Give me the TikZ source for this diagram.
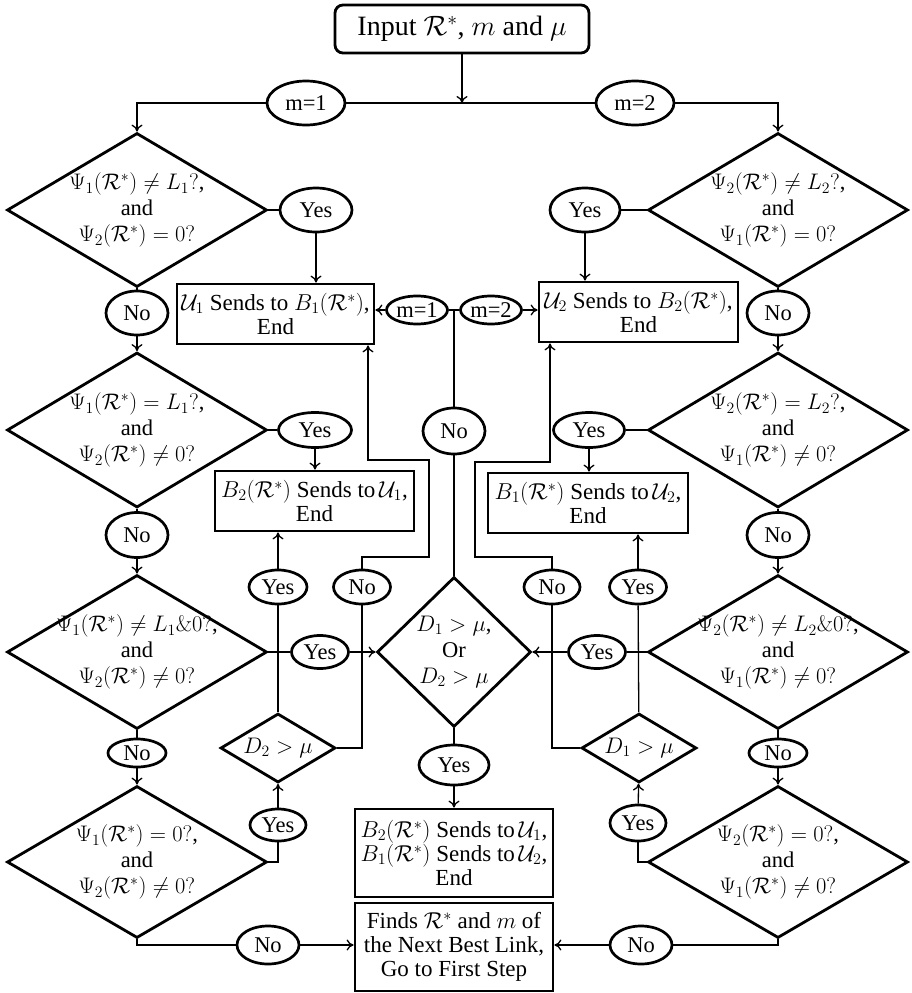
\RequirePackage{fix-cm}
\documentclass[tikz,border=0pt]{standalone}
\usepackage[no-math]{fontspec}
\setmainfont{Liberation Serif}
\usetikzlibrary{shapes.geometric,arrows.meta}

\begin{document}
\lineskiplimit=-8pt\relax
\begin{tikzpicture}[x=1pt,y=-1pt,
  every node/.style={font=\fontsize{22.5}{23}\selectfont},
  conn/.style={line width=1.3pt},
  arr/.style={conn,-{To[length=7pt,width=11pt]}},
  dia/.style={draw,diamond,line width=2.8pt,inner sep=0pt},
  dtext/.style={align=center,inner sep=0pt,font=\fontsize{22.5}{26}\selectfont},
  bub/.style 2 args={draw,ellipse,line width=2.7pt,inner sep=0pt,minimum width=#1,minimum height=#2},
  stepbox/.style={draw,rectangle,line width=2.8pt,inner sep=0pt,align=center,font=\fontsize{23}{24}\selectfont},
]
\useasboundingbox (0,0) rectangle (911,993);
\fill[white] (0,0) rectangle (911,993);

% ---- start and first split
\node[stepbox,rounded corners=8pt,minimum width=254pt,minimum height=48pt,font=\fontsize{28}{30}\selectfont] (start) at (462,29) {Input $\mathcal{R}^*$, $m$ and $\mu$};
\coordinate (split) at (462,103);
\node[bub={78pt}{44pt}] (m1a) at (306,103) {m=1};
\node[bub={78pt}{44pt}] (m2a) at (635,103) {m=2};

% ---- left column of tests
\node[dia,minimum width=260pt,minimum height=154pt] (L1) at (137,210) {};
\node[dtext] (L1t) at (L1) {$\Psi_1(\mathcal{R}^*)\neq L_1?$,\\and\\$\Psi_2(\mathcal{R}^*)=0?$};
\node[bub={62pt}{44pt}] (NoL1) at (137,313) {No};
\node[dia,minimum width=260pt,minimum height=155pt] (L2) at (137,430) {};
\node[dtext] (L2t) at (L2) {$\Psi_1(\mathcal{R}^*)=L_1?$,\\and\\$\Psi_2(\mathcal{R}^*)\neq 0?$};
\node[bub={62pt}{45pt}] (NoL2) at (137,535) {No};
\node[dia,minimum width=260pt,minimum height=154pt] (L3) at (137,652) {};
\node[dtext] (L3t) at (L3) {$\Psi_1(\mathcal{R}^*)\neq L_1\&0?$,\\and\\$\Psi_2(\mathcal{R}^*)\neq 0?$};
\node[bub={58pt}{28pt}] (NoL3) at (137,753) {No};
\node[dia,minimum width=260pt,minimum height=152pt] (L4) at (137,862) {};
\node[dtext] (L4t) at (L4) {$\Psi_1(\mathcal{R}^*)=0?$,\\and\\$\Psi_2(\mathcal{R}^*)\neq 0?$};

% ---- right column of tests
\node[dia,minimum width=260pt,minimum height=154pt] (R1) at (778,210) {};
\node[dtext] (R1t) at (R1) {$\Psi_2(\mathcal{R}^*)\neq L_2?$,\\and\\$\Psi_1(\mathcal{R}^*)=0?$};
\node[bub={62pt}{44pt}] (NoR1) at (778,313) {No};
\node[dia,minimum width=260pt,minimum height=155pt] (R2) at (778,430) {};
\node[dtext] (R2t) at (R2) {$\Psi_2(\mathcal{R}^*)=L_2?$,\\and\\$\Psi_1(\mathcal{R}^*)\neq 0?$};
\node[bub={62pt}{45pt}] (NoR2) at (778,535) {No};
\node[dia,minimum width=260pt,minimum height=154pt] (R3) at (778,652) {};
\node[dtext] (R3t) at (R3) {$\Psi_2(\mathcal{R}^*)\neq L_2\&0?$,\\and\\$\Psi_1(\mathcal{R}^*)\neq 0?$};
\node[bub={58pt}{28pt}] (NoR3) at (778,753) {No};
\node[dia,minimum width=260pt,minimum height=152pt] (R4) at (778,862) {};
\node[dtext] (R4t) at (R4) {$\Psi_2(\mathcal{R}^*)=0?$,\\and\\$\Psi_1(\mathcal{R}^*)\neq 0?$};

% ---- outcome boxes
\node[stepbox,minimum width=197pt,minimum height=60pt] (U1box) at (275.5,314) {$\mathcal{U}_1$ Sends to $B_1(\mathcal{R}^*)$,\\End};
\node[stepbox,minimum width=199pt,minimum height=60pt] (U2box) at (638.5,312) {$\mathcal{U}_2$ Sends to $B_2(\mathcal{R}^*)$,\\End};
\node[stepbox,minimum width=199pt,minimum height=60pt] (B2box) at (314.5,501) {$B_2(\mathcal{R}^*)$ Sends to\,$\mathcal{U}_1$,\\End};
\node[stepbox,minimum width=200pt,minimum height=60pt] (B1box) at (588,503) {$B_1(\mathcal{R}^*)$ Sends to\,$\mathcal{U}_2$,\\End};
\node[stepbox,minimum width=198pt,minimum height=88pt] (both) at (454,853) {$B_2(\mathcal{R}^*)$ Sends to\,$\mathcal{U}_1$,\\$B_1(\mathcal{R}^*)$ Sends to\,$\mathcal{U}_2$,\\End};
\node[stepbox,minimum width=198pt,minimum height=88pt] (next) at (454,947) {Finds $\mathcal{R}^*$ and $m$ of\\the Next Best Link,\\Go to First Step};

% ---- answer bubbles
\node[bub={72pt}{44pt}] (Yes1L) at (316,210) {Yes};
\node[bub={70pt}{44pt}] (Yes1R) at (585,210) {Yes};
\node[bub={61pt}{28pt}] (m1s) at (417,310) {m=1};
\node[bub={61pt}{28pt}] (m2s) at (491,310) {m=2};
\coordinate (hub) at (454,310);
\node[bub={62pt}{46pt}] (NoC) at (454,431) {No};
\node[bub={73pt}{35pt}] (Yes2L) at (315,430) {Yes};
\node[bub={71pt}{35pt}] (Yes2R) at (589,430) {Yes};
\node[bub={58pt}{34pt}] (YesL4) at (278,587) {Yes};
\node[bub={57pt}{34pt}] (NoL4) at (362,587) {No};
\node[bub={56pt}{34pt}] (NoR4) at (552,587) {No};
\node[bub={57pt}{34pt}] (YesR4) at (638,587) {Yes};
\node[bub={57pt}{33pt}] (Yes3L) at (320,652) {Yes};
\node[bub={57pt}{33pt}] (Yes3R) at (597,652) {Yes};
\node[bub={70pt}{40pt}] (YesC) at (454,765) {Yes};
\node[bub={56pt}{32pt}] (YesL5) at (278,825) {Yes};
\node[bub={56pt}{36pt}] (YesR5) at (638,823) {Yes};
\node[bub={62pt}{38pt}] (NoB1) at (268,945) {No};
\node[bub={62pt}{38pt}] (NoB2) at (641,945) {No};

% ---- threshold tests
\node[dia,minimum width=154pt,minimum height=150pt] (BigD) at (454,652) {};
\node[dtext] (BigDt) at (BigD) {$D_1>\mu$,\\Or\\$D_2>\mu$};
\node[dia,minimum width=115pt,minimum height=69pt] (SDL) at (278,748) {};
\node[dtext] (SDLt) at (SDL) {$D_2>\mu$};
\node[dia,minimum width=115pt,minimum height=69pt] (SDR) at (639,748) {};
\node[dtext] (SDRt) at (SDR) {$D_1>\mu$};

% ---- bends of the loop-back lines
\coordinate (la) at (362,557);
\coordinate (lb) at (429,557);
\coordinate (lc) at (429,460);
\coordinate (ld) at (368,460);
\coordinate (ra) at (552,557);
\coordinate (rb) at (475,557);
\coordinate (rc) at (475,462);
\coordinate (rd) at (550,462);

% ---- connectors: top
\draw[arr] (start) -- (split);
\draw[conn] (split) -- (m1a);
\draw[arr] (m1a) -| (L1);
\draw[conn] (split) -- (m2a);
\draw[arr] (m2a) -| (R1);

% ---- connectors: columns
\draw[conn] (L1) -- (NoL1);
\draw[arr] (NoL1) -- (L2);
\draw[conn] (L2) -- (NoL2);
\draw[arr] (NoL2) -- (L3);
\draw[conn] (L3) -- (NoL3);
\draw[arr] (NoL3) -- (L4);
\draw[conn] (R1) -- (NoR1);
\draw[arr] (NoR1) -- (R2);
\draw[conn] (R2) -- (NoR2);
\draw[arr] (NoR2) -- (R3);
\draw[conn] (R3) -- (NoR3);
\draw[arr] (NoR3) -- (R4);

% ---- connectors: yes branches
\draw[conn] (L1.east) -- (Yes1L.west);
\draw[arr] (Yes1L.south) -- (Yes1L.south |- U1box.north);
\draw[conn] (R1.west) -- (Yes1R.east);
\draw[arr] (Yes1R.south) -- (Yes1R.south |- U2box.north);
\draw[conn] (L2.east) -- (Yes2L.west);
\draw[arr] (Yes2L.south) -- (Yes2L.south |- B2box.north);
\draw[conn] (R2.west) -- (Yes2R.east);
\draw[arr] (Yes2R.south) -- (Yes2R.south |- B1box.north);
\draw[conn] (L3.east) -- (Yes3L.west);
\draw[arr] (Yes3L.east) -- (BigD.west);
\draw[conn] (R3.west) -- (Yes3R.east);
\draw[arr] (Yes3R.west) -- (BigD.east);

% ---- connectors: centre
\draw[conn] (m1s.east) -- (m2s.west);
\draw[arr] (m1s.west) -- (m1s.west -| U1box.east);
\draw[arr] (m2s.east) -- (m2s.east -| U2box.west);
\draw[conn] (NoC) -- (hub);
\draw[conn] (BigD) -- (NoC);
\draw[conn] (BigD) -- (YesC);
\draw[arr] (YesC) -- (both);

% ---- connectors: lower left
\draw[conn] (L4.east) -| (YesL5.south);
\draw[arr] (YesL5) -- (SDL);
\draw[conn] (SDL) -- (YesL4);
\draw[arr] (YesL4.north) -- (YesL4.north |- B2box.south);
\draw[conn] (SDL.east) -| (NoL4.south);
\draw[arr] (NoL4.north) -- (la) -- (lb) -- (lc) -- (ld) -- (ld |- U1box.south);

% ---- connectors: lower right
\draw[conn] (R4.west) -| (YesR5.south);
\draw[arr] (YesR5) -- (SDR);
\draw[conn] (SDR) -- (YesR4);
\draw[arr] (YesR4.north) -- (YesR4.north |- B1box.south);
\draw[conn] (SDR.west) -| (NoR4.south);
\draw[arr] (NoR4.north) -- (ra) -- (rb) -- (rc) -- (rd) -- (rd |- U2box.south);

% ---- connectors: bottom
\draw[conn] (L4.south) |- (NoB1.west);
\draw[arr] (NoB1.east) -- (NoB1.east -| next.west);
\draw[conn] (R4.south) |- (NoB2.east);
\draw[arr] (NoB2.west) -- (NoB2.west -| next.east);
\end{tikzpicture}
\end{document}
